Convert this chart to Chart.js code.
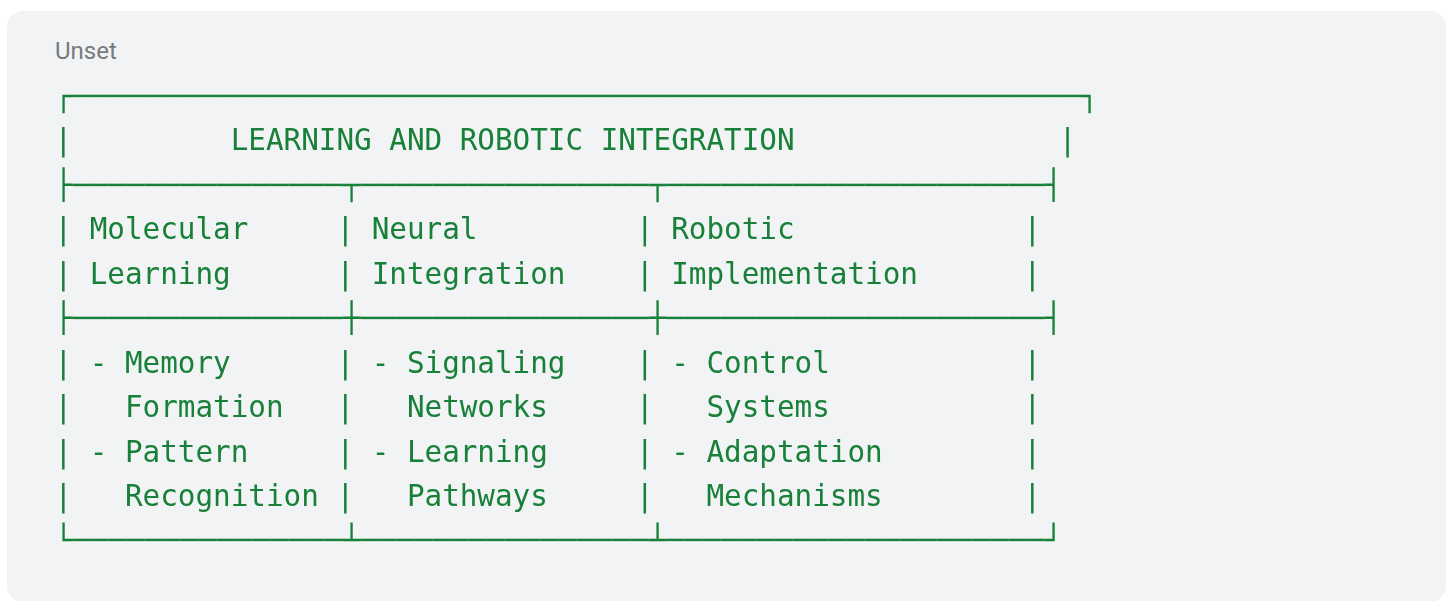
<!DOCTYPE html>
<html>
<head>
<meta charset="utf-8">
<script src="https://cdn.jsdelivr.net/npm/chart.js@4"></script>
<style>
  html, body { margin: 0; padding: 0; background: #fff; width: 1450px; height: 601px; overflow: hidden; }
  .panel { position: absolute; left: 7px; top: 11px; width: 1439px; height: 591px; border-radius: 16px; background: #f1f3f4; }
  .label { position: absolute; left: 55px; top: 39px; font: 24px/24px Roboto, sans-serif; color: #777a7e; }
  .wrap { position: absolute; left: 0; top: 0; width: 1450px; height: 601px; }
</style>
</head>
<body>
<div class="panel"></div>
<div class="label">Unset</div>
<div class="wrap"><canvas id="boxChart"></canvas></div>
<script>
const title = 'LEARNING AND ROBOTIC INTEGRATION';
const headers = [['Molecular', 'Learning'], ['Neural', 'Integration'], ['Robotic', 'Implementation']];
const items = [
  [['Memory', 'Formation'], ['Pattern', 'Recognition']],
  [['Signaling', 'Networks'], ['Learning', 'Pathways']],
  [['Control', 'Systems'], ['Adaptation', 'Mechanisms']]
];
const colWidths = [15, 16, 21];

const pad = (s, n) => s + ' '.repeat(Math.max(0, n - s.length));
const rule = (l, m, r) => l + colWidths.map((w) => '─'.repeat(w)).join(m) + r;
const row = (cells) => '|' + cells.map((c, i) => pad(c, colWidths[i])).join('|') + '|';

const lines = [
  '┌' + '─'.repeat(56) + '┐',
  '|' + pad(' '.repeat(9) + title, 56) + '|',
  rule('├', '┬', '┤'),
  row(headers.map((h) => ' ' + h[0])),
  row(headers.map((h) => ' ' + h[1])),
  rule('├', '┼', '┤')
];
items[0].forEach((_, k) => {
  lines.push(row(items.map((col) => ' - ' + col[k][0])));
  lines.push(row(items.map((col) => '   ' + col[k][1])));
});
lines.push(rule('└', '┴', '┘'));

// box-drawing glyphs sit in slightly wider cells than plain characters
const boxCell = 18.0 / 17.62;
const isBox = (ch) => ch >= '\u2500' && ch <= '\u257f';

const asciiText = {
  id: 'asciiText',
  afterDatasetsDraw(chart) {
    const { ctx, scales: { x, y } } = chart;
    const pts = chart.data.datasets[0].data;
    ctx.save();
    ctx.fillStyle = '#188038';
    ctx.font = '29.3px "DejaVu Sans Mono", monospace';
    ctx.textAlign = 'center';
    ctx.textBaseline = 'alphabetic';
    pts.forEach((p) => {
      let col = p.x;
      for (const ch of p.line) {
        const w = isBox(ch) ? boxCell : 1;
        if (ch !== ' ') ctx.fillText(ch, x.getPixelForValue(col + w / 2), y.getPixelForValue(p.y));
        col += w;
      }
    });
    ctx.restore();
  }
};

new Chart(document.getElementById('boxChart'), {
  type: 'scatter',
  data: {
    datasets: [{
      data: lines.map((line, i) => ({ x: 0, y: i, line })),
      pointRadius: 0
    }]
  },
  options: {
    responsive: true,
    maintainAspectRatio: false,
    animation: false,
    layout: { padding: 0 },
    plugins: { legend: { display: false }, tooltip: { enabled: false } },
    scales: {
      x: { display: false, min: -54.5 / 17.62, max: (1450 - 54.5) / 17.62 },
      y: { display: false, reverse: true, min: -106 / 44.44, max: (601 - 106) / 44.44 }
    }
  },
  plugins: [asciiText]
});
</script>
</body>
</html>
